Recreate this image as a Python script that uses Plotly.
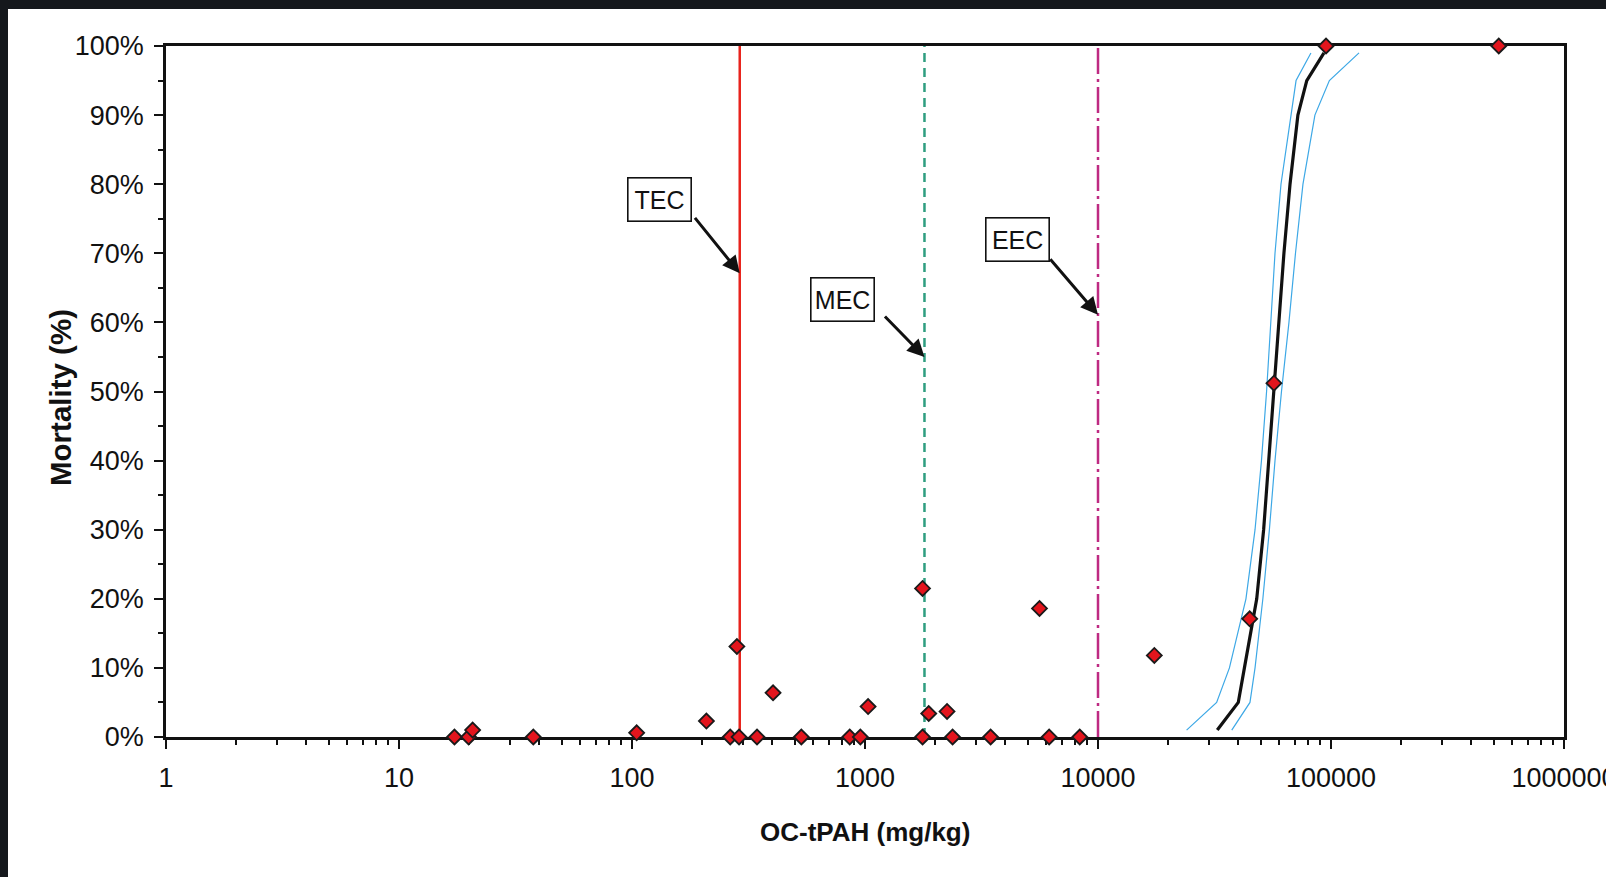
import math
import plotly.graph_objects as go

# ---------------- data ----------------
# observed toxicity points: OC-normalised tPAH (mg/kg) vs mortality (fraction)
conc = [17.3, 19.9, 20.7, 37.7, 104.7, 208.6, 264, 288, 282, 344, 403, 533,
        860, 955, 1031, 1766, 1766, 1877, 2250, 2376, 3460, 5610, 6170, 8350,
        17450, 44770, 56900, 95200, 524800]
mortality = [0, 0, 0.010, 0, 0.006, 0.023, 0, 0, 0.131, 0, 0.064, 0,
             0, 0, 0.044, 0, 0.215, 0.034, 0.037, 0, 0, 0.186, 0, 0,
             0.118, 0.171, 0.512, 1.0, 1.0]

# fitted concentration-response curve and confidence bounds
fit_pct = [0.01, 0.05, 0.10, 0.20, 0.30, 0.40, 0.50, 0.60, 0.70, 0.80, 0.90, 0.95, 0.99]
fit_conc = [32500, 40000, 42500, 48000, 51400, 54100, 56600, 59700, 62800, 66700, 72100, 78700, 93300]
lower_conc = [24000, 32300, 36650, 43150, 47200, 50300, 52900, 55000, 57500, 61000, 67300, 70800, 82000]
upper_conc = [37500, 44900, 47200, 51000, 54400, 57500, 61300, 66000, 70400, 75800, 85300, 98400, 131900]

# sediment quality guidelines (mg/kg OC)
guide_names = ["TEC", "MEC", "EEC"]
guide_values = [290, 1800, 10000]

x_tick_vals = [1, 10, 100, 1000, 10000, 100000, 1000000]
x_tick_text = ["1", "10", "100", "1000", "10000", "100000", "1000000"]
y_tick_vals = [0, 0.1, 0.2, 0.3, 0.4, 0.5, 0.6, 0.7, 0.8, 0.9, 1.0]
y_tick_text = ["0%", "10%", "20%", "30%", "40%", "50%", "60%", "70%", "80%", "90%", "100%"]

# ---------------- figure ----------------
W, H = 1606, 877
ML, MR, MT, MB = 166, 42, 46, 140
PW, PH = W - ML - MR, H - MT - MB

def px(x):
    return (x - ML) / PW

def py(y):
    return (H - MB - y) / PH

FONT = "Liberation Sans, Arial, sans-serif"
INK = "#111111"

guide_styles = {
    "TEC": dict(color="#e8231c", width=2.5, dash="solid"),
    "MEC": dict(color="#2f9d80", width=2.5, dash="9px,6px"),
    "EEC": dict(color="#be2a82", width=2.5, dash="26px,5px,3px,5px"),
}

fig = go.Figure()

for name, val in zip(guide_names, guide_values):
    fig.add_trace(go.Scatter(x=[val, val], y=[0, 1], mode="lines",
                             line=guide_styles[name], showlegend=False,
                             hoverinfo="skip"))

fig.add_trace(go.Scatter(x=lower_conc, y=fit_pct, mode="lines",
                         line=dict(color="#3da8e6", width=1.2), showlegend=False))
fig.add_trace(go.Scatter(x=upper_conc, y=fit_pct, mode="lines",
                         line=dict(color="#3da8e6", width=1.2), showlegend=False))
fig.add_trace(go.Scatter(x=fit_conc, y=fit_pct, mode="lines",
                         line=dict(color="#111111", width=3.2), showlegend=False))

fig.add_trace(go.Scatter(x=conc, y=mortality, mode="markers", cliponaxis=False,
                         marker=dict(symbol="diamond", size=11.5, color="#e3151d",
                                     line=dict(color="#1a1a1a", width=1.8)),
                         showlegend=False))

minor_x = [m * 10 ** d for d in range(0, 6) for m in range(2, 10)]

fig.update_xaxes(type="log", range=[0, 6], tickmode="array",
                 tickvals=x_tick_vals, ticktext=x_tick_text,
                 ticks="outside", ticklen=9, tickwidth=2, tickcolor=INK,
                 minor=dict(tickmode="array", tickvals=minor_x, ticks="outside",
                            ticklen=5, tickwidth=2, tickcolor=INK, showgrid=False),
                 showline=True, linewidth=2.5, linecolor=INK, mirror=True,
                 showgrid=False, zeroline=False, layer="below traces",
                 tickfont=dict(family=FONT, size=27, color=INK),
                 ticklabelstandoff=6, ticklabeloverflow="allow", automargin=False)
fig.update_yaxes(range=[0, 1], tickmode="array", tickvals=y_tick_vals,
                 ticktext=y_tick_text, ticks="outside", ticklen=9, tickwidth=2,
                 tickcolor=INK,
                 minor=dict(dtick=0.05, ticks="outside", ticklen=5, tickwidth=2,
                            tickcolor=INK, showgrid=False),
                 showline=True, linewidth=2.5, linecolor=INK, mirror=True,
                 showgrid=False, zeroline=False, layer="below traces",
                 tickfont=dict(family=FONT, size=27, color=INK),
                 ticklabelstandoff=5, ticklabeloverflow="allow", automargin=False)

annotations = []
# label boxes (pixel-based placement)
box_centers = {"TEC": (659, 199.8), "MEC": (842.2, 299.2), "EEC": (1017, 239.2)}
for name in guide_names:
    cx, cy = box_centers[name]
    annotations.append(dict(text=name, xref="paper", yref="paper",
                            x=px(cx), y=py(cy), xanchor="center", yanchor="middle",
                            showarrow=False, bgcolor="white", bordercolor=INK,
                            borderwidth=1.6, borderpad=0, width=62, height=42,
                            font=dict(family=FONT, size=25, color=INK)))
# arrows from the boxes to the guideline lines (log axis -> log10 position)
arrow_tips = {"TEC": (0.671, -46, -57), "MEC": (0.550, -41, -42), "EEC": (0.611, -49, -57)}
for name, val in zip(guide_names, guide_values):
    ty, ax, ay = arrow_tips[name]
    annotations.append(dict(text="", x=math.log10(val), y=ty, xref="x", yref="y",
                            showarrow=True, ax=ax, ay=ay,
                            arrowhead=2, arrowsize=1.15, arrowwidth=3,
                            arrowcolor=INK, standoff=0, startstandoff=0))
# axis titles
annotations.append(dict(text="<b>OC-tPAH (mg/kg)</b>", xref="paper", yref="paper",
                        x=px(865), y=py(832), xanchor="center", yanchor="middle",
                        showarrow=False,
                        font=dict(family=FONT, size=26, color=INK)))
annotations.append(dict(text="<b>Mortality (%)</b>", xref="paper", yref="paper",
                        x=px(60), y=py(398), xanchor="center", yanchor="middle",
                        showarrow=False, textangle=-90,
                        font=dict(family=FONT, size=29.5, color=INK)))

shapes = [
    dict(type="rect", xref="paper", yref="paper", x0=px(-2), x1=px(W + 2),
         y0=py(9), y1=py(-2), fillcolor="#15181c", line=dict(width=0), layer="above"),
    dict(type="rect", xref="paper", yref="paper", x0=px(-2), x1=px(8),
         y0=py(H + 2), y1=py(-2), fillcolor="#15181c", line=dict(width=0), layer="above"),
]

fig.update_layout(width=W, height=H, autosize=False,
                  margin=dict(l=ML, r=MR, t=MT, b=MB, pad=0, autoexpand=False),
                  paper_bgcolor="white", plot_bgcolor="white",
                  annotations=annotations, shapes=shapes, showlegend=False)

fig.write_html("out.html", config={"displayModeBar": False})
